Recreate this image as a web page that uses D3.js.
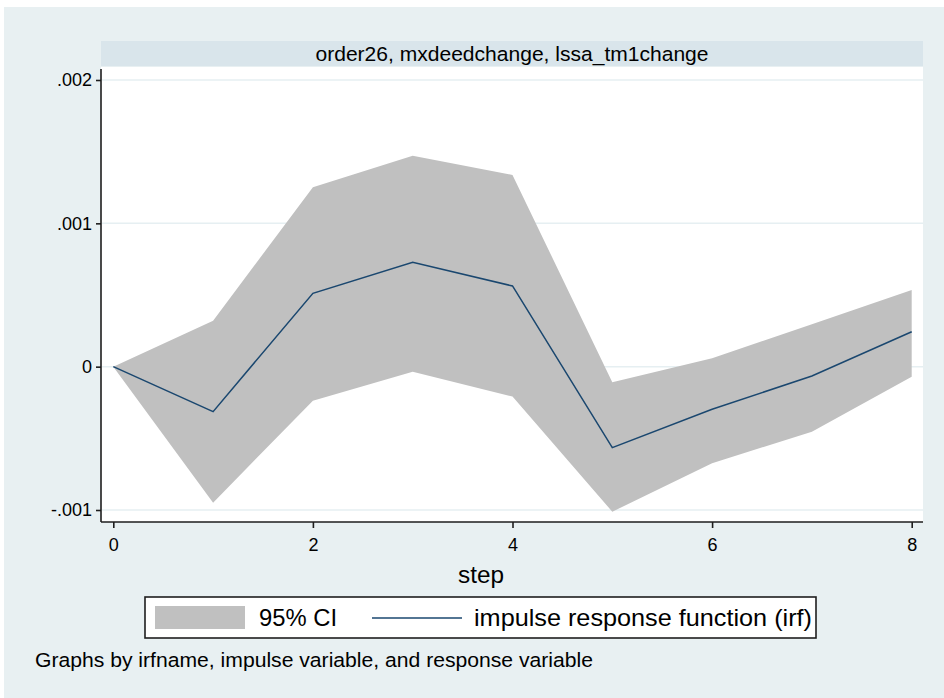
<!DOCTYPE html>
<html>
<head>
<meta charset="utf-8">
<script src="https://cdn.jsdelivr.net/npm/d3@7"></script>
<style>
	html, body { margin: 0; padding: 0; background: #fff; }
	svg text { font-family: "Liberation Sans", Arial, sans-serif; fill: #000; }
</style>
</head>
<body>
<div id="chart"></div>
<script>
//	数据：脉冲响应及其 95% 置信区间
const steps = [0, 1, 2, 3, 4, 5, 6, 7, 8];
const irf = [0, -0.000314, 0.000512, 0.000728, 0.000563, -0.000565, -0.000297, -0.000065, 0.000244];
const ciUpper = [0, 0.000321, 0.001252, 0.001472, 0.001338, -0.000109, 0.000059, 0.000296, 0.000535];
const ciLower = [0, -0.000949, -0.000237, -0.000035, -0.000209, -0.001012, -0.000674, -0.000454, -0.00007];
const xTicks = [0, 2, 4, 6, 8];
const yTicks = [-0.001, 0, 0.001, 0.002];
const yTickLabels = ['-.001', '0', '.001', '.002'];
const panelTitle = 'order26, mxdeedchange, lssa_tm1change';
const legendLabels = ['95% CI', 'impulse response function (irf)'];
const note = 'Graphs by irfname, impulse variable, and response variable';

const width = 944, height = 698;
const plot = { left: 101, right: 923, top: 67, bottom: 522 };

const svg = d3.select('#chart')
	.append('svg')
	.attr('width', width)
	.attr('height', height);

//	背景
svg.append('rect')
	.attr('x', 4).attr('y', 7)
	.attr('width', width - 4).attr('height', height - 7)
	.style('fill', '#e8f0f2');

//	标题条
svg.append('rect')
	.attr('x', plot.left).attr('y', 41)
	.attr('width', plot.right - plot.left).attr('height', 25)
	.style('fill', '#d9e5eb');
svg.append('text')
	.attr('x', (plot.left + plot.right) / 2)
	.attr('y', 61)
	.attr('text-anchor', 'middle')
	.attr('textLength', 393)
	.attr('lengthAdjust', 'spacingAndGlyphs')
	.style('font-size', '20.5px')
	.text(panelTitle);

//	绘图区
svg.append('rect')
	.attr('x', plot.left).attr('y', plot.top)
	.attr('width', plot.right - plot.left).attr('height', plot.bottom - plot.top)
	.style('fill', '#fff');

const x = d3.scaleLinear().domain([0, 8]).range([113.3, 911.7]);
const y = d3.scaleLinear().domain([-0.001, 0.002]).range([510, 80]);

//	网格线
svg.append('g')
	.selectAll('line')
	.data(yTicks)
	.enter()
	.append('line')
	.attr('x1', plot.left + 1).attr('x2', plot.right)
	.attr('y1', d => y(d)).attr('y2', d => y(d))
	.attr('stroke', '#e6eff2')
	.style('stroke-width', 1.5);

//	置信区间
const band = steps.map((s, i) => ({ s, lo: ciLower[i], hi: ciUpper[i] }));
svg.append('path')
	.datum(band)
	.attr('d', d3.area()
		.x(d => x(d.s))
		.y0(d => y(d.lo))
		.y1(d => y(d.hi)))
	.style('fill', '#c0c0c0');

//	脉冲响应线
svg.append('path')
	.datum(steps.map((s, i) => [s, irf[i]]))
	.attr('d', d3.line()
		.x(d => x(d[0]))
		.y(d => y(d[1])))
	.style('fill', 'none')
	.attr('stroke', '#1a476f')
	.style('stroke-width', 1.5);

//	坐标轴
const yAxis = svg.append('g')
	.attr('transform', `translate(${plot.left},0)`)
	.call(d3.axisLeft(y)
		.tickValues(yTicks)
		.tickFormat((d, i) => yTickLabels[i])
		.tickSize(5)
		.tickPadding(4));
yAxis.select('.domain')
	.attr('d', `M0,${plot.top + 2}V${plot.bottom}`);

const xAxis = svg.append('g')
	.attr('transform', `translate(0,${plot.bottom})`)
	.call(d3.axisBottom(x)
		.tickValues(xTicks)
		.tickFormat(d3.format('d'))
		.tickSize(6)
		.tickPadding(10));
xAxis.select('.domain')
	.attr('d', `M${plot.left},0H${plot.right}`);

svg.selectAll('.tick text')
	.style('font-size', '18px')
	.style('font-family', '"Liberation Sans", Arial, sans-serif');
svg.selectAll('.domain, .tick line')
	.attr('stroke', '#1e1e1e')
	.style('stroke-width', 1.6);

//	X 轴标题
svg.append('text')
	.attr('x', 481)
	.attr('y', 583)
	.attr('text-anchor', 'middle')
	.attr('textLength', 46)
	.attr('lengthAdjust', 'spacingAndGlyphs')
	.style('font-size', '24.5px')
	.text('step');

//	图例
const legend = svg.append('g');
legend.append('rect')
	.attr('x', 145).attr('y', 597)
	.attr('width', 671).attr('height', 41)
	.style('fill', '#fff')
	.attr('stroke', '#1e1e1e')
	.style('stroke-width', 1.6);
legend.append('rect')
	.attr('x', 155).attr('y', 606)
	.attr('width', 90).attr('height', 23)
	.style('fill', '#c0c0c0');
legend.append('line')
	.attr('x1', 372).attr('x2', 462)
	.attr('y1', 618).attr('y2', 618)
	.attr('stroke', '#1a476f')
	.style('stroke-width', 1.5);
legend.selectAll('text')
	.data(legendLabels)
	.enter()
	.append('text')
	.attr('x', (d, i) => i ? 474 : 259)
	.attr('y', 626)
	.attr('textLength', (d, i) => i ? 338 : 78)
	.attr('lengthAdjust', 'spacingAndGlyphs')
	.style('font-size', '24.5px')
	.text(d => d);

//	注释
svg.append('text')
	.attr('x', 35)
	.attr('y', 667)
	.attr('textLength', 558)
	.attr('lengthAdjust', 'spacingAndGlyphs')
	.style('font-size', '20.5px')
	.text(note);
</script>
</body>
</html>
